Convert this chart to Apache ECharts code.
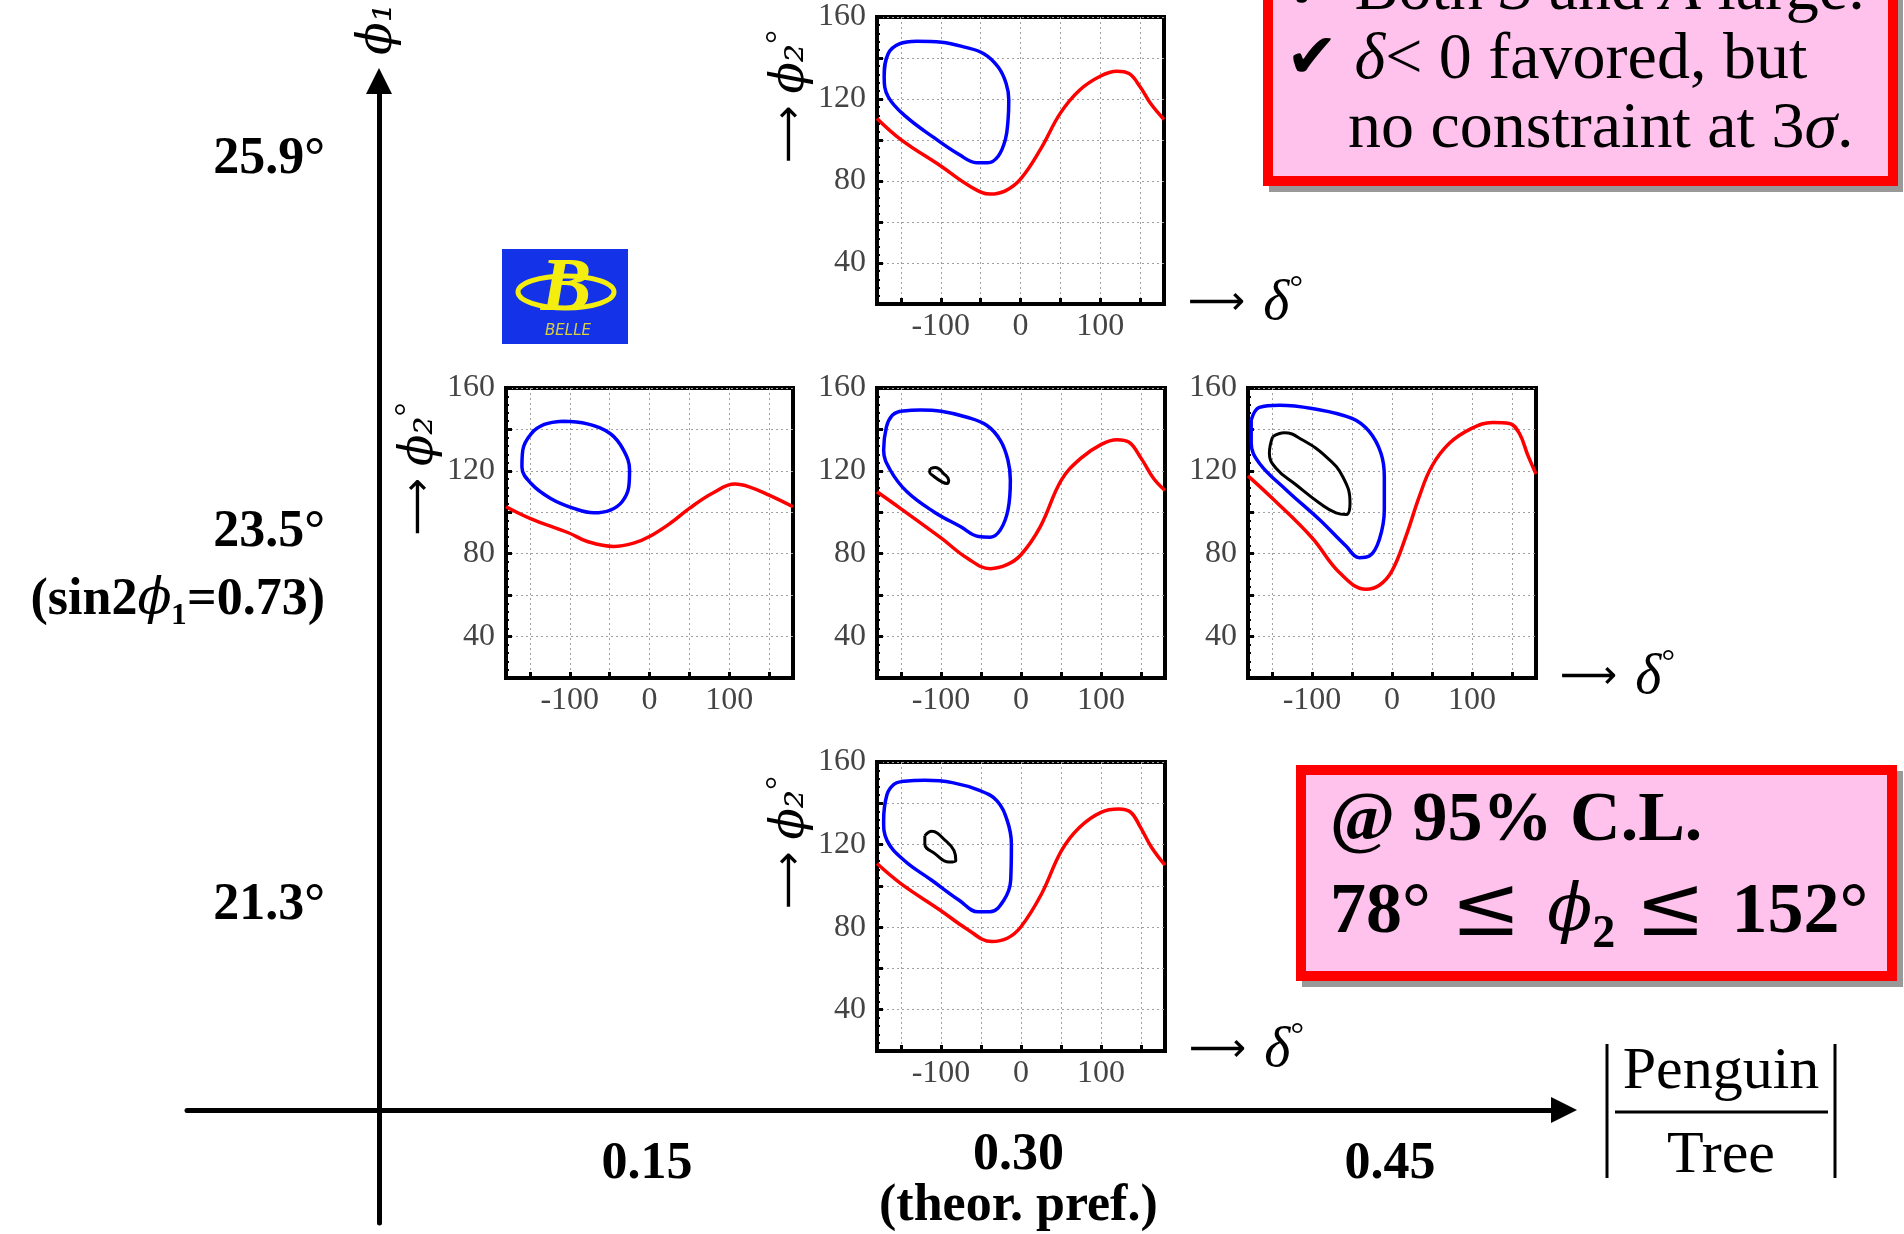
<!DOCTYPE html>
<html>
<head>
<meta charset="utf-8">
<script src="https://cdn.jsdelivr.net/npm/echarts@6/dist/echarts.min.js"></script>
<style>
  html, body { margin: 0; padding: 0; background: #fff; }
  #chart { width: 1904px; height: 1234px; }
</style>
</head>
<body>
<div id="chart"></div>
<script>
// ---- tick values of the small delta / phi2 panels ----
const deltaGrid = [-150, -100, -50, 0, 50, 100, 150];
const deltaTicks = [-100, 0, 100];
const phi2Ticks = [40, 80, 120, 160];

// ---- outer scan axes: |Penguin/Tree| columns and phi1 rows ----
const ratioTicks = [0.15, 0.30, 0.45];
const ratioNote = '(theor. pref.)';
const phi1Rows = [1, 2, 3];
const phi1Ticks = ['21.3°', '23.5°', '25.9°'];
const phi1Note = ['(sin2', 'ϕ', '₁=0.73)'];

// ---- contours, [delta, phi2] in degrees ----
// |P/T| = 0.30, phi1 = 25.9
const redTop = [[-180,110.5],[-150,100.2],[-100,87.3],[-64,77.6],[-38,73.6],[-19,75.2],[0,80.9],[25,95.4],[50,113.1],[74,124.3],[100,131.1],[121,133.5],[136,132.4],[150,126],[163,117.9],[180,110]];
const blueTop = [[-130,148.2],[-99,147.7],[-70,145.3],[-46,142.1],[-28,135.6],[-18,127.6],[-14.7,119.5],[-15.6,109.9],[-19,100.2],[-28,92.1],[-41,88.9],[-55,88.9],[-77,92.9],[-108,101],[-144,111.5],[-166,121.1],[-171,130.8],[-166,142.1],[-152,146.9],[-130,148.2]];

// |P/T| = 0.15, phi1 = 23.5
const redMidLeft = [[-180,102.7],[-150,97.1],[-101,90],[-78,85.9],[-45,83.5],[-20,85.1],[0,88.3],[26,94.7],[50,101.9],[80,109.4],[107,113.6],[125,112.3],[150,108.3],[180,102.7]];
const blueMidLeft = [[-109,144],[-78,142.7],[-49,137.9],[-32.4,129.9],[-25,120.3],[-26,112.3],[-34.4,105.1],[-49,101.1],[-70,99.8],[-95,101.9],[-124,106.7],[-148.5,113.9],[-160,121.9],[-159,129.9],[-148.5,137.9],[-132,142.4],[-109,144]];

// |P/T| = 0.30, phi1 = 23.5
const redMid = [[-180,109.9],[-150.8,101.9],[-99.6,87.5],[-67.5,77.9],[-38.3,72.8],[-17.5,74.7],[0,79.5],[24.2,93.1],[50.4,115.5],[74.2,125.9],[100.4,132.8],[120,135],[134.6,133.9],[150.4,125.9],[165.8,116.3],[180,110.5]];
const blueMid = [[-150.8,148.8],[-125.8,149.4],[-99.6,148.8],[-67.5,145.9],[-42.5,141.9],[-25.8,134.7],[-16.3,125.1],[-13.3,115.5],[-16.3,101.1],[-25.8,91.5],[-38.3,88],[-52.9,88.3],[-75.8,93.1],[-109.2,100.3],[-142.5,109.9],[-163.3,120.3],[-171.7,129.9],[-168.3,141.1],[-161.3,146.7],[-150.8,148.8]];
const blackMid = [[-113.3,121.1],[-107,121.6],[-96.7,118.7],[-90.4,115.5],[-92.5,113.9],[-98.8,114.7],[-109.2,117.4],[-114.2,119.5],[-113.3,121.1]];

// |P/T| = 0.45, phi1 = 23.5
const redRight = [[-180,117.6],[-150,106.9],[-100,87.7],[-65.8,70.9],[-32.5,62.9],[-15.8,64.8],[0,71.7],[17.5,88.5],[34.2,107.7],[49.6,122.1],[71.7,133.3],[99.6,140.5],[125.8,143.4],[146.7,142.9],[159.2,138.1],[169.6,127.7],[180,118.5]];
const blueRight = [[-176,144.5],[-165.8,150.6],[-140.8,151.7],[-100,150.1],[-50,145.3],[-28.3,138.9],[-13.8,128.5],[-9.6,117.3],[-9.6,101.3],[-15.8,86.9],[-28.3,78.9],[-40.8,78.1],[-57.5,83.7],[-90.8,96.5],[-132.5,110.9],[-165.8,123.7],[-176,133.3],[-176,144.5]];
const blackRight = [[-149.2,136.5],[-134.6,138.4],[-111.7,134.9],[-82.5,126.9],[-61.7,117.3],[-52.5,104.5],[-57.5,98.9],[-70,99.7],[-90.8,104.5],[-120,113.3],[-145,121.3],[-153.3,128.5],[-149.2,136.5]];

// |P/T| = 0.30, phi1 = 21.3
const redBottom = [[-180,110.8],[-150.2,101.1],[-100.9,88.2],[-68.7,79.4],[-36.5,73],[-17.2,74.6],[0,80.2],[25.8,96.2],[50.6,117.1],[73,128.3],[100,135.6],[122.3,137.2],[137.3,135.6],[149.4,128.3],[163.1,118.7],[180,110]];
const blueBottom = [[-150.2,150.5],[-120.2,151.1],[-85.8,150],[-50.2,146],[-30,141.2],[-17.2,131.6],[-12,120.3],[-12.9,102.7],[-21.5,93],[-38.6,87.4],[-53.6,87.4],[-77.3,93],[-111.6,102.7],[-145.9,112.3],[-167.4,121.9],[-171.7,131.6],[-167.4,144.4],[-158.8,149.2],[-150.2,150.5]];
const blackBottom = [[-120.2,124.3],[-111.6,126.4],[-94.4,121.9],[-83.7,117.1],[-81.5,112.3],[-90.1,111.5],[-107.3,115.5],[-120.2,120.3],[-120.2,124.3]];

// panel placement on the page: [left, top, width, height]
const panels = [
  { rect: [877, 17, 287, 287],  red: redTop,     blue: blueTop,     black: null,        yName: true,  xName: true  },
  { rect: [506, 388, 287, 290], red: redMidLeft, blue: blueMidLeft, black: null,        yName: true,  xName: false },
  { rect: [877, 388, 288, 290], red: redMid,     blue: blueMid,     black: blackMid,    yName: false, xName: false },
  { rect: [1248, 388, 288, 290], red: redRight,  blue: blueRight,   black: blackRight,  yName: false, xName: true  },
  { rect: [877, 762, 288, 289], red: redBottom,  blue: blueBottom,  black: blackBottom, yName: true,  xName: true  }
];

const SERIF = 'Liberation Serif';
const MATH = 'DejaVu Serif';
const ARROW = 'DejaVu Sans';

const grids = [], xAxes = [], yAxes = [], series = [];

panels.forEach(function (p, i) {
  grids.push({
    left: p.rect[0], top: p.rect[1], width: p.rect[2], height: p.rect[3],
    show: true, backgroundColor: '#fff', borderColor: '#000', borderWidth: 4
  });
  xAxes.push({
    type: 'value', gridIndex: i, min: -180, max: 180,
    axisLine: { show: true, onZero: false, lineStyle: { color: '#000', width: 4 } },
    axisTick: { show: true, inside: true, length: 6, customValues: deltaGrid, lineStyle: { color: '#000', width: 3 } },
    axisLabel: { customValues: deltaTicks, margin: 7, fontFamily: SERIF, fontSize: 32, color: '#444' },
    splitLine: { show: true, lineStyle: { color: '#a0a0a0', width: 1, type: [2, 3] } },
    name: p.xName ? '{a|⟶}{d|δ}{o|°}' : '',
    nameLocation: 'end', nameGap: 24,
    nameTextStyle: {
      rich: {
        a: { fontFamily: ARROW, fontSize: 40, color: '#000', lineHeight: 64, padding: [0, 18, 0, 0] },
        d: { fontFamily: SERIF, fontStyle: 'italic', fontSize: 56, color: '#000', lineHeight: 64 },
        o: { fontFamily: SERIF, fontSize: 34, color: '#000', lineHeight: 40, verticalAlign: 'top' }
      }
    }
  });
  yAxes.push({
    type: 'value', gridIndex: i, min: 20, max: 160, interval: 20,
    axisLine: { show: true, onZero: false, lineStyle: { color: '#000', width: 4 } },
    axisTick: { show: true, inside: true, length: 6, lineStyle: { color: '#000', width: 3 } },
    minorTick: { show: true, splitNumber: 5, length: 3, lineStyle: { color: '#000', width: 2 } },
    axisLabel: { customValues: phi2Ticks, margin: 11, fontFamily: SERIF, fontSize: 32, color: '#444' },
    splitLine: { show: true, lineStyle: { color: '#a0a0a0', width: 1, type: [2, 3] } },
    name: p.yName ? '{a|⟶}{p|ϕ₂}{o|°}' : '',
    nameLocation: 'middle', nameRotate: 90, nameGap: 50,
    nameTextStyle: {
      padding: [0, 0, 0, 128],
      rich: {
        a: { fontFamily: ARROW, fontSize: 40, color: '#000', lineHeight: 58, padding: [0, 12, 0, 0] },
        p: { fontFamily: MATH, fontStyle: 'italic', fontSize: 46, color: '#000', lineHeight: 58 },
        o: { fontFamily: SERIF, fontSize: 34, color: '#000', lineHeight: 34, verticalAlign: 'top' }
      }
    }
  });

  const common = { type: 'line', xAxisIndex: i, yAxisIndex: i, showSymbol: false, symbol: 'none', silent: true, z: 5 };
  series.push(Object.assign({}, common, { data: p.red, smooth: 0.4, lineStyle: { color: '#ff0000', width: 3.5 } }));
  series.push(Object.assign({}, common, { data: p.blue, smooth: 0.4, lineStyle: { color: '#0000ff', width: 3.5 } }));
  if (p.black) {
    series.push(Object.assign({}, common, { data: p.black, smooth: 0.45, lineStyle: { color: '#000', width: 3 } }));
  }
});

// outer scan axes: crossing arrows with |P/T| along x and phi1 along y
const OUT = panels.length;
grids.push({ left: 187, top: 72, width: 1377, height: 1151, show: false });
xAxes.push({
  type: 'value', gridIndex: OUT, min: -0.0357, max: 0.5203,
  position: 'bottom', offset: -113,
  axisLine: { show: true, onZero: false, symbol: ['none', 'triangle'], symbolSize: [26, 26],
              lineStyle: { color: '#000', width: 5 } },
  axisTick: { show: false }, splitLine: { show: false },
  axisLabel: {
    customValues: ratioTicks, margin: 26,
    formatter: function (v) {
      const s = v.toFixed(2);
      return Math.abs(v - 0.30) < 1e-9 ? '{t|' + s + '}\n{n|' + ratioNote + '}' : '{v|' + s + '}';
    },
    rich: {
      v: { fontFamily: SERIF, fontWeight: 'bold', fontSize: 52, color: '#000', lineHeight: 58 },
      t: { fontFamily: SERIF, fontWeight: 'bold', fontSize: 52, color: '#000', lineHeight: 40 },
      n: { fontFamily: SERIF, fontWeight: 'bold', fontSize: 52, color: '#000', lineHeight: 62 }
    }
  }
});
yAxes.push({
  type: 'value', gridIndex: OUT, min: 0.14894, max: 3.2101,
  position: 'left', offset: -192,
  axisLine: { show: true, onZero: false, symbol: ['none', 'triangle'], symbolSize: [26, 26],
              lineStyle: { color: '#000', width: 5 } },
  axisTick: { show: false }, splitLine: { show: false },
  axisLabel: {
    customValues: phi1Rows, margin: 54,
    formatter: function (v) {
      const k = Math.round(v) - 1;
      if (k === 1) {
        return '{e| }\n{b|' + phi1Ticks[k] + '}\n{b|' + phi1Note[0] + '}{p|' + phi1Note[1] + '}{b|' + phi1Note[2] + '}';
      }
      return '{b|' + phi1Ticks[k] + '}';
    },
    rich: {
      e: { fontSize: 10, lineHeight: 68 },
      b: { fontFamily: SERIF, fontWeight: 'bold', fontSize: 52, color: '#000', lineHeight: 68 },
      p: { fontFamily: MATH, fontStyle: 'italic', fontSize: 50, color: '#000', lineHeight: 68 }
    }
  },
  name: '{p|ϕ₁}', nameLocation: 'end', nameRotate: 90, nameGap: 26,
  nameTextStyle: { rich: { p: { fontFamily: MATH, fontStyle: 'italic', fontSize: 48, color: '#000' } } }
});

// annotation boxes, ratio label and logo
const boxText = { fontFamily: SERIF, fontSize: 66, fill: '#000', textVerticalAlign: 'middle',
  rich: {
    c: { fontFamily: 'DejaVu Sans', fontSize: 62 },
    i: { fontFamily: SERIF, fontStyle: 'italic', fontSize: 66 }
  } };
const clText = { fontFamily: SERIF, fontWeight: 'bold', fontSize: 70, fill: '#000', textVerticalAlign: 'middle' };

const graphic = [
  // summary box, upper right
  { type: 'rect', z: 1, shape: { x: 1269, y: -14, width: 634, height: 206 }, style: { fill: '#999' } },
  { type: 'rect', z: 2, shape: { x: 1268, y: -20, width: 625, height: 201 }, style: { fill: '#ffc2ec', stroke: '#ff0000', lineWidth: 10 } },
  { type: 'text', z: 3, style: Object.assign({ x: 1286, y: -8, text: '{c|✔} Both {i|S} and {i|A} large.' }, boxText) },
  { type: 'text', z: 3, style: Object.assign({ x: 1286, y: 61, text: '{c|✔} {i|δ}< 0 favored, but' }, boxText) },
  { type: 'text', z: 3, style: Object.assign({ x: 1348, y: 130, text: 'no constraint at 3{i|σ}.' }, boxText) },

  // confidence-level box, lower right
  { type: 'rect', z: 1, shape: { x: 1302, y: 771, width: 601, height: 216 }, style: { fill: '#999' } },
  { type: 'rect', z: 2, shape: { x: 1301, y: 770, width: 591, height: 206 }, style: { fill: '#ffc2ec', stroke: '#ff0000', lineWidth: 10 } },
  { type: 'text', z: 3, style: Object.assign({ x: 1330, y: 822, text: '@ 95% C.L.' }, clText) },
  { type: 'text', z: 3, style: Object.assign({ x: 1330, y: 913,
      text: '{m|78°}{r|≤}{p|ϕ}{s|2}{r|≤}{m|152°}',
      rich: {
        m: { fontFamily: SERIF, fontWeight: 'bold', fontSize: 72, lineHeight: 90 },
        r: { fontFamily: MATH, fontSize: 84, lineHeight: 90, padding: [0, 26, 0, 20] },
        p: { fontFamily: MATH, fontStyle: 'italic', fontSize: 66, lineHeight: 90 },
        s: { fontFamily: SERIF, fontWeight: 'bold', fontSize: 46, lineHeight: 50, verticalAlign: 'bottom' }
      } }, clText) },

  // |Penguin / Tree| axis title
  { type: 'text', style: { x: 1721, y: 1072, text: 'Penguin', fontFamily: SERIF, fontSize: 60, fill: '#000', textAlign: 'center', textVerticalAlign: 'middle' } },
  { type: 'text', style: { x: 1721, y: 1156, text: 'Tree', fontFamily: SERIF, fontSize: 60, fill: '#000', textAlign: 'center', textVerticalAlign: 'middle' } },
  { type: 'line', shape: { x1: 1615, y1: 1112, x2: 1828, y2: 1112 }, style: { stroke: '#000', lineWidth: 3 } },
  { type: 'line', shape: { x1: 1607, y1: 1044, x2: 1607, y2: 1178 }, style: { stroke: '#000', lineWidth: 3 } },
  { type: 'line', shape: { x1: 1835, y1: 1044, x2: 1835, y2: 1178 }, style: { stroke: '#000', lineWidth: 3 } },

  // Belle logo
  { type: 'rect', shape: { x: 502, y: 249, width: 126, height: 95 }, style: { fill: '#1432e8' } },
  { type: 'ellipse', shape: { cx: 566, cy: 292, rx: 48, ry: 16 }, style: { fill: 'none', stroke: '#f4ee10', lineWidth: 5 } },
  { type: 'text', style: { x: 566, y: 290, text: 'B', fontFamily: SERIF, fontStyle: 'italic', fontWeight: 'bold', fontSize: 76, fill: '#f4ee10', textAlign: 'center', textVerticalAlign: 'middle' } },
  { type: 'text', style: { x: 568, y: 331, text: 'BELLE', fontFamily: 'DejaVu Sans', fontStyle: 'italic', fontSize: 15, fill: '#d8d040', textAlign: 'center', textVerticalAlign: 'middle' } }
];

const chart = echarts.init(document.getElementById('chart'), null, { renderer: 'canvas' });
chart.setOption({
  animation: false,
  backgroundColor: '#fff',
  grid: grids,
  xAxis: xAxes,
  yAxis: yAxes,
  series: series,
  graphic: graphic
});
</script>
</body>
</html>
